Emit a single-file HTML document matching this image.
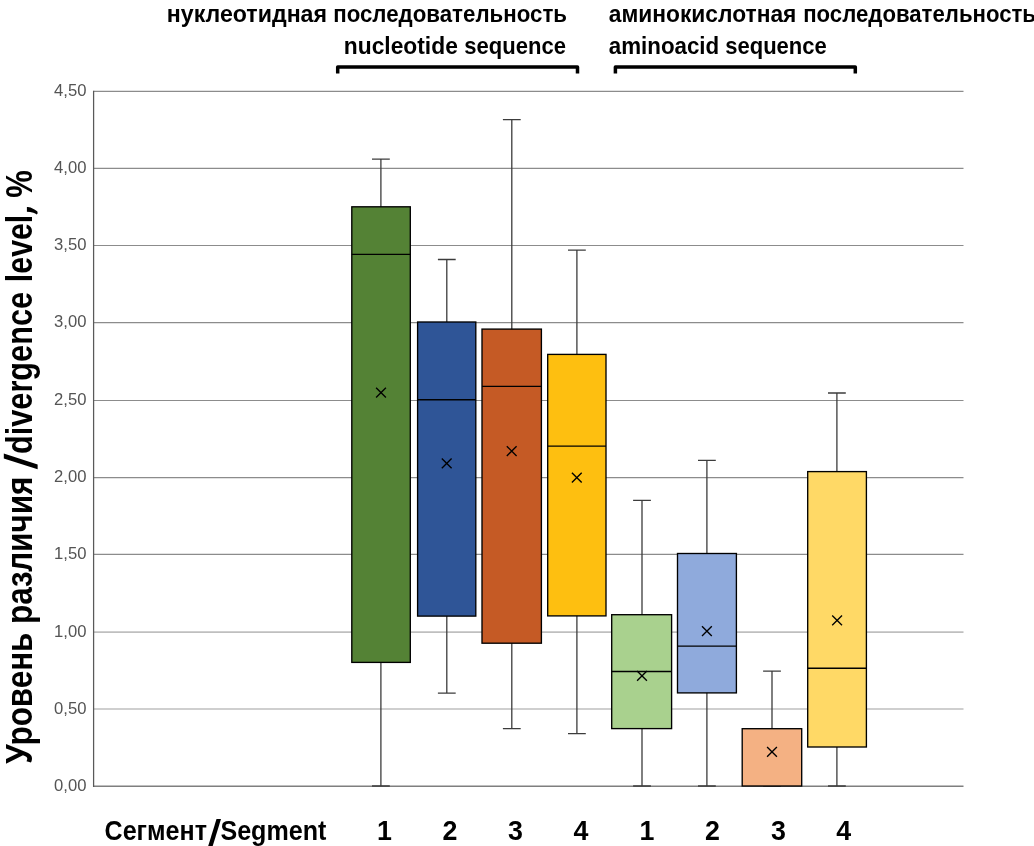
<!DOCTYPE html>
<html><head><meta charset="utf-8"><title>chart</title>
<style>
html,body{margin:0;padding:0;background:#fff;}
body{width:1034px;height:846px;overflow:hidden;}
svg{display:block;font-family:"Liberation Sans",sans-serif;will-change:transform;transform:translateZ(0);}
.b{font-weight:bold;fill:#000;}
</style></head><body>
<svg width="1034" height="846" viewBox="0 0 1034 846">
<rect width="1034" height="846" fill="#fff"/>
<!-- titles -->
<text id="t1a" class="b" x="166.77" y="22.1" font-size="24" textLength="160.25" lengthAdjust="spacingAndGlyphs">нуклеотидная</text>
<text id="t1b" class="b" x="333.18" y="22.1" font-size="24" textLength="233.82" lengthAdjust="spacingAndGlyphs">последовательность</text>
<text id="t2a" class="b" x="343.77" y="53.6" font-size="24" textLength="114.06" lengthAdjust="spacingAndGlyphs">nucleotide</text>
<text id="t2b" class="b" x="464.37" y="53.6" font-size="24" textLength="101.64" lengthAdjust="spacingAndGlyphs">sequence</text>
<text id="t3a" class="b" x="608.78" y="22.1" font-size="24" textLength="187.63" lengthAdjust="spacingAndGlyphs">аминокислотная</text>
<text id="t3b" class="b" x="803.19" y="22.1" font-size="24" textLength="232.81" lengthAdjust="spacingAndGlyphs">последовательность</text>
<text id="t4a" class="b" x="608.79" y="53.6" font-size="24" textLength="110.44" lengthAdjust="spacingAndGlyphs">aminoacid</text>
<text id="t4b" class="b" x="725.19" y="53.6" font-size="24" textLength="101.65" lengthAdjust="spacingAndGlyphs">sequence</text>
<!-- brackets -->
<path d="M337.7 73.5V67.1H577.5V73.5" fill="none" stroke="#000" stroke-width="3.5" stroke-linejoin="round"/>
<path d="M615.4 73.5V67.1H855.3V73.5" fill="none" stroke="#000" stroke-width="3.5" stroke-linejoin="round"/>
<!-- grid -->
<line x1="93.6" x2="963.5" y1="786.20" y2="786.20" stroke="#7f7f7f" stroke-width="1.4"/>
<line x1="93.6" x2="963.5" y1="709.00" y2="709.00" stroke="#bfbfbf" stroke-width="1.7"/>
<line x1="93.6" x2="963.5" y1="632.05" y2="632.05" stroke="#bfbfbf" stroke-width="1.7"/>
<line x1="93.6" x2="963.5" y1="554.40" y2="554.40" stroke="#8c8c8c" stroke-width="1.15"/>
<line x1="93.6" x2="963.5" y1="477.55" y2="477.55" stroke="#8c8c8c" stroke-width="1.15"/>
<line x1="93.6" x2="963.5" y1="400.45" y2="400.45" stroke="#8c8c8c" stroke-width="1.15"/>
<line x1="93.6" x2="963.5" y1="322.60" y2="322.60" stroke="#8c8c8c" stroke-width="1.15"/>
<line x1="93.6" x2="963.5" y1="245.45" y2="245.45" stroke="#8c8c8c" stroke-width="1.15"/>
<line x1="93.6" x2="963.5" y1="168.40" y2="168.40" stroke="#8c8c8c" stroke-width="1.15"/>
<line x1="93.6" x2="963.5" y1="91.40" y2="91.40" stroke="#8c8c8c" stroke-width="1.15"/>
<line x1="93.6" x2="93.6" y1="90.8" y2="786.9" stroke="#595959" stroke-width="1.25"/>
<text x="86.4" y="790.75" text-anchor="end" font-size="16.6" fill="#545454" textLength="32.4" lengthAdjust="spacingAndGlyphs">0,00</text>
<text x="86.4" y="713.55" text-anchor="end" font-size="16.6" fill="#545454" textLength="32.4" lengthAdjust="spacingAndGlyphs">0,50</text>
<text x="86.4" y="636.60" text-anchor="end" font-size="16.6" fill="#545454" textLength="32.4" lengthAdjust="spacingAndGlyphs">1,00</text>
<text x="86.4" y="558.95" text-anchor="end" font-size="16.6" fill="#545454" textLength="32.4" lengthAdjust="spacingAndGlyphs">1,50</text>
<text x="86.4" y="482.10" text-anchor="end" font-size="16.6" fill="#545454" textLength="32.4" lengthAdjust="spacingAndGlyphs">2,00</text>
<text x="86.4" y="405.00" text-anchor="end" font-size="16.6" fill="#545454" textLength="32.4" lengthAdjust="spacingAndGlyphs">2,50</text>
<text x="86.4" y="327.15" text-anchor="end" font-size="16.6" fill="#545454" textLength="32.4" lengthAdjust="spacingAndGlyphs">3,00</text>
<text x="86.4" y="250.00" text-anchor="end" font-size="16.6" fill="#545454" textLength="32.4" lengthAdjust="spacingAndGlyphs">3,50</text>
<text x="86.4" y="172.95" text-anchor="end" font-size="16.6" fill="#545454" textLength="32.4" lengthAdjust="spacingAndGlyphs">4,00</text>
<text x="86.4" y="95.95" text-anchor="end" font-size="16.6" fill="#545454" textLength="32.4" lengthAdjust="spacingAndGlyphs">4,50</text>
<!-- boxes -->
<path d="M380.9 159.2V786.0M372.0 159.2H389.79999999999995M372.0 786.0H389.79999999999995" stroke="#3c3c3c" stroke-width="1.3" fill="none"/>
<rect x="351.8" y="206.8" width="58.50" height="455.60" fill="#548235" stroke="#000" stroke-width="1.35"/>
<line x1="351.8" x2="410.3" y1="254.3" y2="254.3" stroke="#000" stroke-width="1.35"/>
<path d="M376.10 387.80L385.90 397.60M376.10 397.60L385.90 387.80" stroke="#000" stroke-width="1.35" fill="none"/>
<path d="M446.8 259.5V693.1M437.90000000000003 259.5H455.7M437.90000000000003 693.1H455.7" stroke="#3c3c3c" stroke-width="1.3" fill="none"/>
<rect x="417.6" y="322.0" width="58.20" height="294.10" fill="#2F5597" stroke="#000" stroke-width="1.35"/>
<line x1="417.6" x2="475.8" y1="399.7" y2="399.7" stroke="#000" stroke-width="1.35"/>
<path d="M441.80 458.50L451.60 468.30M441.80 468.30L451.60 458.50" stroke="#000" stroke-width="1.35" fill="none"/>
<path d="M511.8 119.6V728.6M502.90000000000003 119.6H520.7M502.90000000000003 728.6H520.7" stroke="#3c3c3c" stroke-width="1.3" fill="none"/>
<rect x="482.0" y="329.1" width="59.40" height="314.10" fill="#C55A25" stroke="#000" stroke-width="1.35"/>
<line x1="482.0" x2="541.4" y1="386.3" y2="386.3" stroke="#000" stroke-width="1.35"/>
<path d="M506.80 446.20L516.60 456.00M506.80 456.00L516.60 446.20" stroke="#000" stroke-width="1.35" fill="none"/>
<path d="M576.9 250.1V733.6M568.0 250.1H585.8M568.0 733.6H585.8" stroke="#3c3c3c" stroke-width="1.3" fill="none"/>
<rect x="547.7" y="354.4" width="58.30" height="261.50" fill="#FEBF10" stroke="#000" stroke-width="1.35"/>
<line x1="547.7" x2="606.0" y1="446.1" y2="446.1" stroke="#000" stroke-width="1.35"/>
<path d="M571.90 472.80L581.70 482.60M571.90 482.60L581.70 472.80" stroke="#000" stroke-width="1.35" fill="none"/>
<path d="M642.0 500.3V786.0M633.1 500.3H650.9M633.1 786.0H650.9" stroke="#3c3c3c" stroke-width="1.3" fill="none"/>
<rect x="611.7" y="614.7" width="59.90" height="113.90" fill="#A9D18E" stroke="#000" stroke-width="1.35"/>
<line x1="611.7" x2="671.6" y1="671.5" y2="671.5" stroke="#000" stroke-width="1.35"/>
<path d="M637.10 670.90L646.90 680.70M637.10 680.70L646.90 670.90" stroke="#000" stroke-width="1.35" fill="none"/>
<path d="M706.9 460.4V786.0M698.0 460.4H715.8M698.0 786.0H715.8" stroke="#3c3c3c" stroke-width="1.3" fill="none"/>
<rect x="677.5" y="553.5" width="58.90" height="139.40" fill="#8FAADC" stroke="#000" stroke-width="1.35"/>
<line x1="677.5" x2="736.4" y1="646.1" y2="646.1" stroke="#000" stroke-width="1.35"/>
<path d="M702.00 626.30L711.80 636.10M702.00 636.10L711.80 626.30" stroke="#000" stroke-width="1.35" fill="none"/>
<path d="M772.0 671.1V786.0M763.1 671.1H780.9M763.1 786.0H780.9" stroke="#3c3c3c" stroke-width="1.3" fill="none"/>
<rect x="742.2" y="728.7" width="59.50" height="57.30" fill="#F4B183" stroke="#000" stroke-width="1.35"/>
<path d="M767.10 747.00L776.90 756.80M767.10 756.80L776.90 747.00" stroke="#000" stroke-width="1.35" fill="none"/>
<path d="M836.9 393.0V786.0M828.0 393.0H845.8M828.0 786.0H845.8" stroke="#3c3c3c" stroke-width="1.3" fill="none"/>
<rect x="807.7" y="471.6" width="58.70" height="275.40" fill="#FFD966" stroke="#000" stroke-width="1.35"/>
<line x1="807.7" x2="866.4" y1="668.2" y2="668.2" stroke="#000" stroke-width="1.35"/>
<path d="M832.20 615.50L842.00 625.30M832.20 625.30L842.00 615.50" stroke="#000" stroke-width="1.35" fill="none"/>
<!-- y label -->
<text id="v1" class="b" transform="translate(32.2,763.82) rotate(-90)" font-size="36" textLength="131.24" lengthAdjust="spacingAndGlyphs">Уровень</text>
<text id="v2" class="b" transform="translate(32.2,624.05) rotate(-90)" font-size="36" textLength="147.31" lengthAdjust="spacingAndGlyphs">различия</text>
<text id="v3" class="b" transform="translate(32.2,454.01) rotate(-90)" font-size="36" textLength="162.03" lengthAdjust="spacingAndGlyphs">divergence</text>
<polygon points="37.6,469.2 37.6,464.4 3.8,453.6 3.8,458.4" fill="#000"/>
<text id="v4" class="b" transform="translate(32.2,282.15) rotate(-90)" font-size="36" textLength="67.43" lengthAdjust="spacingAndGlyphs">level</text>
<path d="M26.9 207.1L26.9 211.7Q30 211.7 33.4 212.7Q35.4 213.3 36.6 214.4L37.6 213.4Q37.7 212.2 37.2 211.3Q35 209.4 30.6 207.4Q28.5 206.9 26.9 207.1Z" fill="#000"/>
<text id="v5" class="b" transform="translate(32.2,197.71) rotate(-90)" font-size="36" textLength="27.61" lengthAdjust="spacingAndGlyphs">%</text>
<!-- x labels -->
<text id="x1" class="b" x="104.58" y="840.0" font-size="27" textLength="102.33" lengthAdjust="spacingAndGlyphs">Сегмент</text>
<text id="x2" class="b" x="220.46" y="840.0" font-size="27" textLength="105.86" lengthAdjust="spacingAndGlyphs">Segment</text>
<polygon points="207.9,847 212.4,847 221.0,818.9 216.5,818.9" fill="#000"/>
<text id="d1" class="b" x="376.90" y="839.5" font-size="26.8" textLength="14.90" lengthAdjust="spacingAndGlyphs">1</text><text id="d2" class="b" x="442.45" y="839.5" font-size="26.8" textLength="14.90" lengthAdjust="spacingAndGlyphs">2</text><text id="d3" class="b" x="507.90" y="839.5" font-size="26.8" textLength="14.90" lengthAdjust="spacingAndGlyphs">3</text><text id="d4" class="b" x="573.45" y="839.5" font-size="26.8" textLength="14.90" lengthAdjust="spacingAndGlyphs">4</text>
<text id="d5" class="b" x="639.40" y="839.5" font-size="26.8" textLength="14.90" lengthAdjust="spacingAndGlyphs">1</text><text id="d6" class="b" x="704.95" y="839.5" font-size="26.8" textLength="14.90" lengthAdjust="spacingAndGlyphs">2</text><text id="d7" class="b" x="771.10" y="839.5" font-size="26.8" textLength="14.90" lengthAdjust="spacingAndGlyphs">3</text><text id="d8" class="b" x="836.20" y="839.5" font-size="26.8" textLength="14.90" lengthAdjust="spacingAndGlyphs">4</text>
</svg>
</body></html>
